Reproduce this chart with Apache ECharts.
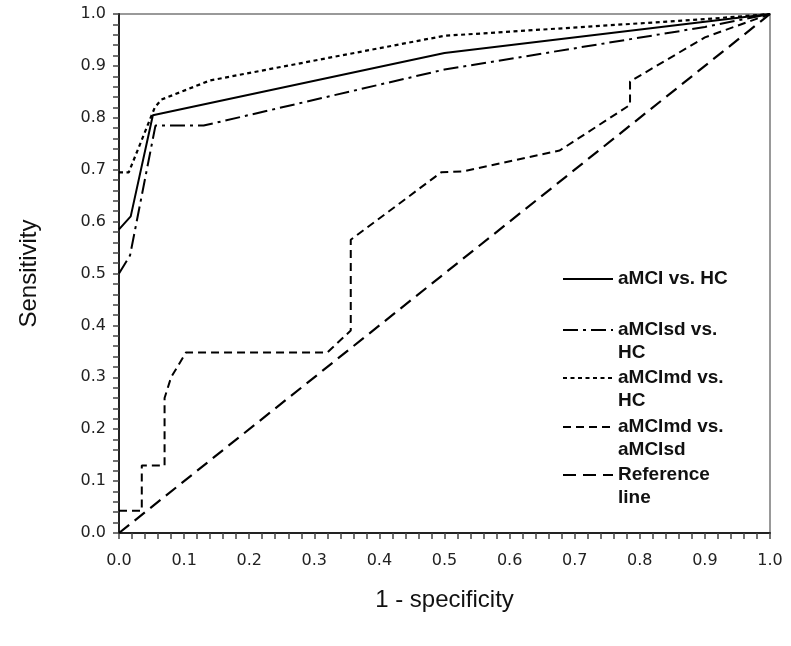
<!DOCTYPE html>
<html><head><meta charset="utf-8">
<script src="https://cdn.jsdelivr.net/npm/echarts@6/dist/echarts.min.js"></script>
<style>html,body{margin:0;padding:0;background:#fff}#c{width:791px;height:646px}</style>
</head><body><div id="c"></div>
<script>
// ---- data ----
const seriesNames = ['aMCI vs. HC', 'aMCIsd vs. HC', 'aMCImd vs. HC', 'aMCImd vs. aMCIsd', 'Reference line'];
const legendLabels = ['aMCI vs. HC', 'aMCIsd vs.\nHC', 'aMCImd vs.\nHC', 'aMCImd vs.\naMCIsd', 'Reference\nline'];
const aMCI_HC = [[0,0.585],[0.018,0.61],[0.052,0.805],[0.5,0.925],[0.9,0.985],[1,1]];
const aMCIsd_HC = [[0,0.5],[0.017,0.535],[0.056,0.785],[0.13,0.785],[0.5,0.893],[0.9,0.975],[1,1]];
const aMCImd_HC = [[0,0.695],[0.015,0.695],[0.055,0.82],[0.065,0.835],[0.14,0.872],[0.5,0.958],[0.9,0.99],[1,1]];
const aMCImd_aMCIsd = [[0,0.043],[0.035,0.043],[0.035,0.13],[0.07,0.13],[0.07,0.26],[0.08,0.3],[0.103,0.348],
  [0.32,0.348],[0.356,0.39],[0.356,0.565],[0.495,0.695],[0.53,0.697],[0.677,0.737],[0.785,0.825],[0.785,0.87],[0.9,0.955],[1,1]];
const referenceLine = [[0,0],[1,1]];
const axisMin = 0, axisMax = 1, majorStep = 0.1;
const xTitle = '1 - specificity';
const yTitle = 'Sensitivity';

// ---- styles ----
const dashTypes = ['solid', [15,5,3,5], [4,3.5], [8,5], [13,7]];
const widths = [2, 2, 2.2, 2, 2.2];
const legendCenters = [279, 330, 378, 427, 475];
const lh = 23;

const chart = echarts.init(document.getElementById('c'), null, {renderer: 'canvas'});
const seriesData = [aMCI_HC, aMCIsd_HC, aMCImd_HC, aMCImd_aMCIsd, referenceLine];

const legends = seriesNames.map((n, i) => {
  const twoLine = legendLabels[i].indexOf('\n') >= 0;
  return {
    data: [n],
    left: 562,
    top: twoLine ? legendCenters[i] - 1.5 * lh : legendCenters[i] - lh / 2,
    orient: 'vertical',
    padding: 0,
    itemGap: 0,
    itemWidth: 50,
    itemHeight: 14,
    selectedMode: false,
    itemStyle: {opacity: 0},
    formatter: () => (twoLine ? ' \n' : '') + legendLabels[i],
    textStyle: {fontFamily: 'Liberation Sans', fontWeight: 'bold', fontSize: 19, color: '#111', lineHeight: lh}
  };
});

const axisCommon = {
  type: 'value', min: axisMin, max: axisMax, interval: majorStep,
  nameLocation: 'middle',
  nameTextStyle: {fontFamily: 'Liberation Sans', fontSize: 24, color: '#111'},
  axisLine: {show: true, lineStyle: {color: '#222', width: 2}},
  axisTick: {show: true, length: 6, lineStyle: {color: '#444', width: 1.5}},
  minorTick: {show: true, splitNumber: 5, length: 6, lineStyle: {color: '#444', width: 1.5}},
  splitLine: {show: false},
  axisLabel: {fontFamily: 'DejaVu Sans', fontSize: 16, color: '#222', formatter: v => v.toFixed(1)}
};

chart.setOption({
  animation: false,
  backgroundColor: '#fff',
  grid: {left: 119, right: 21, top: 14, bottom: 113, show: true, borderColor: '#999', borderWidth: 2},
  legend: legends,
  xAxis: Object.assign({}, axisCommon, {name: xTitle, nameGap: 55,
    axisLabel: Object.assign({}, axisCommon.axisLabel, {margin: 20})}),
  yAxis: Object.assign({}, axisCommon, {name: yTitle, nameGap: 78,
    axisLabel: Object.assign({}, axisCommon.axisLabel, {margin: 13})}),
  series: seriesNames.map((n, i) => ({
    name: n, type: 'line', data: seriesData[i], symbol: 'none', showSymbol: false,
    lineStyle: {color: '#000', width: widths[i], type: dashTypes[i]},
    itemStyle: {color: '#000'},
    z: 5 - i
  }))
});
</script></body></html>
